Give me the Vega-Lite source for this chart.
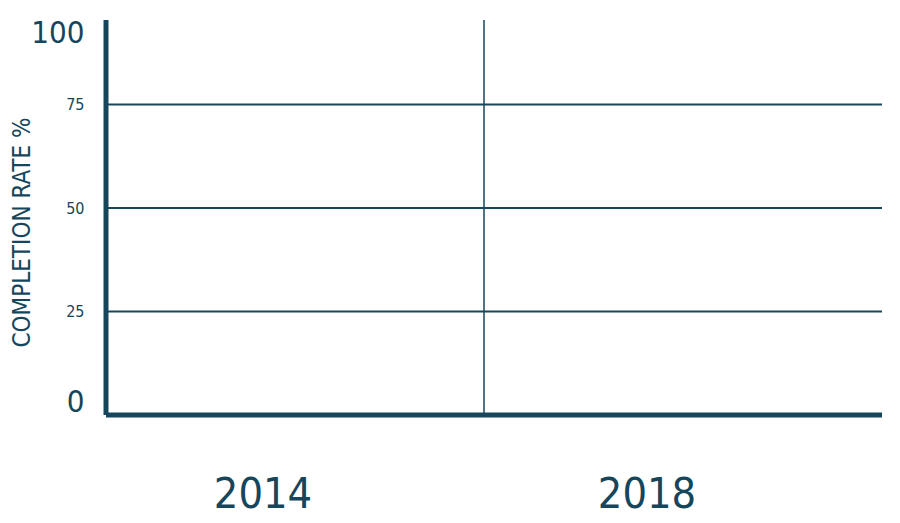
{
  "$schema": "https://vega.github.io/schema/vega-lite/v6.json",
  "width": 776,
  "height": 414,
  "autosize": "none",
  "padding": {"left": 106, "top": 1, "right": 18, "bottom": 108},
  "background": "white",
  "config": {"view": {"stroke": null}},
  "layer": [
    {
      "data": {"values": [{"tick": 25}, {"tick": 50}, {"tick": 75}]},
      "mark": {"type": "rule", "color": "#16465b", "strokeWidth": 2},
      "encoding": {"y": {"field": "tick", "type": "quantitative"}}
    },
    {
      "data": {"values": [{"year": "2014"}, {"year": "2018"}]},
      "mark": {"type": "rule", "color": "#16465b"},
      "encoding": {
        "x": {
          "field": "year",
          "type": "nominal",
          "bandPosition": 0,
          "scale": {"type": "band", "range": [0, 756], "paddingInner": 0, "paddingOuter": 0},
          "axis": {
            "orient": "bottom",
            "title": null,
            "domain": false,
            "ticks": false,
            "tickSize": 0,
            "grid": false,
            "labelAngle": 0,
            "labelFont": "DejaVu Sans Condensed, sans-serif",
            "labelFontSize": 43,
            "labelColor": "#16465b",
            "labelBaseline": "middle",
            "labelPadding": 79,
            "labelOffset": {"condition": {"test": "datum.value == '2014'", "value": -32}, "value": -26}
          }
        },
        "y": {
          "datum": 0,
          "type": "quantitative",
          "scale": {"domain": [0, 100], "nice": false, "zero": true},
          "axis": {
            "values": [0, 25, 50, 75, 100],
            "domain": false,
            "ticks": false,
            "tickSize": 0,
            "grid": false,
            "labelFont": "DejaVu Sans Condensed, sans-serif",
            "labelColor": "#16465b",
            "labelPadding": 22,
            "labelBaseline": "middle",
            "labelFontSize": {"condition": {"test": "datum.value == 0 || datum.value == 100", "value": 31}, "value": 16},
            "labelOffset": {"condition": [{"test": "datum.value == 100", "value": 32}, {"test": "datum.value == 0", "value": -13}], "value": 0},
            "title": "COMPLETION RATE %",
            "titleFont": "DejaVu Sans Condensed, sans-serif",
            "titleFontSize": 24,
            "titleFontWeight": "normal",
            "titleColor": "#16465b",
            "titleAngle": -90,
            "titleAlign": "center",
            "titleBaseline": "middle",
            "titleX": -84,
            "titleY": 231
          }
        },
        "y2": {"datum": 95.4},
        "strokeWidth": {"condition": {"test": "datum.year == '2014'", "value": 5}, "value": 1.5}
      }
    },
    {
      "data": {"values": [{"base": 0}]},
      "mark": {"type": "rule", "color": "#16465b", "strokeWidth": 5},
      "encoding": {"y": {"field": "base", "type": "quantitative"}}
    }
  ]
}
